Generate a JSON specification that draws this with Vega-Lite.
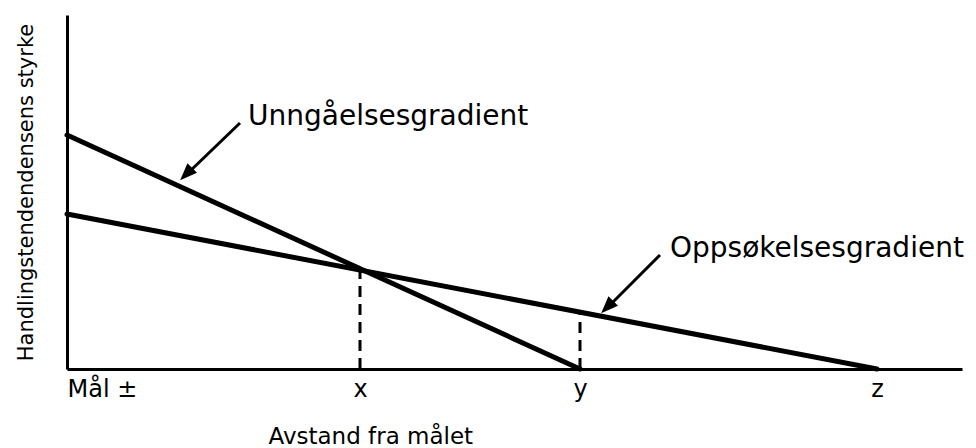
{
  "$schema": "https://vega.github.io/schema/vega-lite/v6.json",
  "width": 895,
  "height": 354,
  "autosize": {"type": "none"},
  "padding": {"left": 67, "top": 15, "right": 14, "bottom": 79},
  "background": "white",
  "config": {
    "view": {"stroke": null},
    "font": "DejaVu Sans"
  },
  "datasets": {
    "gradients": [
      {"gradient": "Unngåelsesgradient", "d": 0, "s": 234},
      {"gradient": "Unngåelsesgradient", "d": 513, "s": 0},
      {"gradient": "Oppsøkelsesgradient", "d": 0, "s": 155},
      {"gradient": "Oppsøkelsesgradient", "d": 810, "s": 0}
    ],
    "drops": [
      {"point": "x", "d": 293, "s": 0},
      {"point": "x", "d": 293, "s": 100},
      {"point": "y", "d": 513, "s": 0},
      {"point": "y", "d": 513, "s": 57}
    ],
    "arrows": [
      {"label": "Unngåelsesgradient", "d": 173, "s": 246},
      {"label": "Unngåelsesgradient", "d": 120, "s": 195},
      {"label": "Oppsøkelsesgradient", "d": 593, "s": 114},
      {"label": "Oppsøkelsesgradient", "d": 541, "s": 62}
    ],
    "heads": [
      {"label": "Unngåelsesgradient", "d": 119.5, "s": 195.2},
      {"label": "Oppsøkelsesgradient", "d": 540.5, "s": 62.2}
    ],
    "labels": [
      {"label": "Unngåelsesgradient", "d": 181, "s": 244},
      {"label": "Oppsøkelsesgradient", "d": 603, "s": 112}
    ]
  },
  "encoding": {
    "x": {
      "field": "d",
      "type": "quantitative",
      "scale": {"domain": [0, 895], "nice": false, "zero": false},
      "axis": {
        "title": "Avstand fra målet",
        "values": [0, 293, 513, 810],
        "labelExpr": "datum.value == 0 ? 'Mål ±' : datum.value == 293 ? 'x' : datum.value == 513 ? 'y' : 'z'",
        "labelAlign": {"condition": {"test": "datum.value == 0", "value": "left"}, "value": "center"},
        "labelFontSize": 24,
        "labelColor": "black",
        "labelPadding": 8,
        "labelFont": "DejaVu Sans",
        "ticks": false,
        "grid": false,
        "domainColor": "black",
        "domainWidth": 3,
        "titleFont": "DejaVu Sans",
        "titleFontSize": 23,
        "titleFontWeight": "normal",
        "titleColor": "black",
        "titleAnchor": "start",
        "titleAlign": "left",
        "titleX": 201,
        "titleY": 74,
        "titleBaseline": "alphabetic"
      }
    },
    "y": {
      "field": "s",
      "type": "quantitative",
      "scale": {"domain": [0, 354], "nice": false},
      "axis": {
        "title": "Handlingstendendensens styrke",
        "labels": false,
        "ticks": false,
        "grid": false,
        "domainColor": "black",
        "domainWidth": 3,
        "titleFont": "DejaVu Sans",
        "titleFontSize": 21,
        "titleFontWeight": "normal",
        "titleColor": "black",
        "titlePadding": 31
      }
    }
  },
  "layer": [
    {
      "data": {"name": "gradients"},
      "mark": {"type": "line", "color": "black", "strokeWidth": 5, "strokeCap": "round"},
      "encoding": {"detail": {"field": "gradient"}}
    },
    {
      "data": {"name": "drops"},
      "mark": {"type": "line", "color": "black", "strokeWidth": 3, "strokeDash": [11, 7]},
      "encoding": {"detail": {"field": "point"}}
    },
    {
      "data": {"name": "arrows"},
      "mark": {"type": "line", "color": "black", "strokeWidth": 3},
      "encoding": {"detail": {"field": "label"}}
    },
    {
      "data": {"name": "heads"},
      "mark": {"type": "point", "shape": "M0,-1L0.75,0.9L-0.75,0.9Z", "filled": true, "color": "black", "size": 324, "opacity": 1, "angle": 225}
    },
    {
      "data": {"name": "labels"},
      "mark": {"type": "text", "align": "left", "baseline": "alphabetic", "fontSize": 28, "color": "black", "font": "DejaVu Sans"},
      "encoding": {"text": {"field": "label"}}
    }
  ]
}
